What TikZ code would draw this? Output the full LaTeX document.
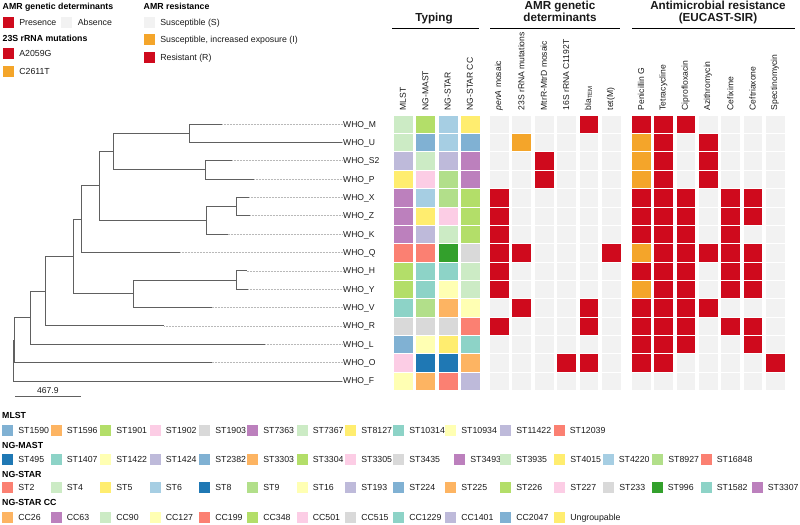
\documentclass[tikz,border=0pt]{standalone}
\usepackage{fontspec}
\setmainfont{Liberation Sans}
\usetikzlibrary{positioning}

% heatmap colours
\definecolor{absent}{HTML}{F2F2F2}
\definecolor{present}{HTML}{CF0A1D}
\definecolor{interm}{HTML}{F4A52A}
\colorlet{code0}{absent}
\colorlet{code1}{present}
\colorlet{code2}{interm}
% typing palette
\definecolor{cTeal}{HTML}{8DD3C7}
\definecolor{cLYellow}{HTML}{FFFFB3}
\definecolor{cLavender}{HTML}{BEBADA}
\definecolor{cSalmon}{HTML}{FB8072}
\definecolor{cBlue}{HTML}{80B1D3}
\definecolor{cOrange}{HTML}{FDB462}
\definecolor{cGreen}{HTML}{B3DE69}
\definecolor{cPink}{HTML}{FCCDE5}
\definecolor{cGrey}{HTML}{D9D9D9}
\definecolor{cPurple}{HTML}{BC80BD}
\definecolor{cLGreen}{HTML}{CCEBC5}
\definecolor{cYellow}{HTML}{FFED6F}
\definecolor{cLBlue}{HTML}{A6CEE3}
\definecolor{cDBlue}{HTML}{1F78B4}
\definecolor{cPGreen}{HTML}{B2DF8A}
\definecolor{cDGreen}{HTML}{33A02C}
\definecolor{ink}{HTML}{1A1A1A}

\newcommand\tipfont{\fontsize{8.6}{10}\selectfont}
\newcommand\keyfont{\fontsize{8.8}{10}\selectfont}
\newcommand\headfont{\fontsize{11.7}{12}\selectfont\bfseries}

\tikzset{
  branch/.style={draw=gray!75!black, line width=0.8bp},
  leader/.style={draw=gray!55, line width=0.5bp, dash pattern=on 0.5bp off 1bp},
  tip/.style={anchor=west, inner sep=0, text=ink, font=\tipfont, text height=6.1bp, text depth=0bp},
  cell/.style={draw=white, line width=0.4bp, minimum width=20bp, minimum height=18.35bp, inner sep=0, anchor=north west},
  colhead/.style={rotate=90, anchor=west, inner sep=0, text=ink, font=\tipfont},
  title/.style={anchor=base, inner sep=0, text=ink, font=\headfont},
  rule/.style={draw=black, line width=1.3bp},
  key/.style={minimum size=11.2bp, inner sep=0, anchor=north west},
  keytext/.style={inner sep=0, text=ink, font=\keyfont, text height=6.3bp, text depth=0bp},
  keytitle/.style={anchor=base west, inner sep=0, text=black, font=\keyfont\bfseries},
}

\begin{document}
\begin{tikzpicture}[x=1bp, y=-1bp]
\useasboundingbox (0,0) rectangle (800,525);

% ---- legends (top left)
\node[keytitle] (gtitle) at (2.5,10) {AMR genetic determinants};
\node[key, fill=present] (kpres) at (2.5,16.5) {};
\node[keytext, right=5bp of kpres] (lpres) {Presence};
\node[key, fill=absent] (kabs) at (61,16.5) {};
\node[keytext, right=5bp of kabs] (labs) {Absence};
\node[keytitle] (mtitle) at (2.5,42) {23S rRNA mutations};
\node[key, fill=present] (ka2059) at (2.5,47.5) {};
\node[keytext, right=5bp of ka2059] (la2059) {A2059G};
\node[key, fill=interm] (kc2611) at (2.5,65.5) {};
\node[keytext, right=5bp of kc2611] (lc2611) {C2611T};
\node[keytitle] (rtitle) at (143.5,10) {AMR resistance};
\node[key, fill=absent] (ks) at (143.5,16.5) {};
\node[keytext, right=5bp of ks] (ls) {Susceptible (S)};
\node[key, fill=interm] (ki) at (143.5,34) {};
\node[keytext, right=5bp of ki] (li) {Susceptible, increased exposure (I)};
\node[key, fill=present] (kr) at (143.5,51.5) {};
\node[keytext, right=5bp of kr] (lr) {Resistant (R)};

% ---- column titles
\node[title] (typing) at (434,22) {Typing};
\node[title] (gen1) at (560,9.5) {AMR genetic};
\node[title] (gen2) at (560,22) {determinants};
\node[title] (res1) at (718,9.5) {Antimicrobial resistance};
\node[title] (res2) at (718,22) {(EUCAST-SIR)};
\coordinate (ty1) at (392,28.8); \coordinate (ty2) at (479,28.8);
\coordinate (ge1) at (490,28.8); \coordinate (ge2) at (620,28.8);
\coordinate (re1) at (632,28.8); \coordinate (re2) at (795,28.8);
\draw[rule] (ty1) -- (ty2);
\draw[rule] (ge1) -- (ge2);
\draw[rule] (re1) -- (re2);

\foreach \t [count=\k from 0] in {MLST, NG-MAST, NG-STAR, NG-STAR CC}
  \node[colhead] (hty\k) at ({403+22.3*\k},110.5) {\t};
\foreach \t [count=\k from 0] in {\textit{penA} mosaic, 23S rRNA mutations, MtrR-MtrD mosaic, 16S rRNA C1192T, bla\textsubscript{TEM}, tet(M)}
  \node[colhead] (hge\k) at ({499+22.4*\k},110.5) {\t};
\foreach \t [count=\k from 0] in {Penicillin G, Tetracycline, Ciprofloxacin, Azithromycin, Cefixime, Ceftriaxone, Spectinomycin}
  \node[colhead] (hre\k) at ({641+22.33*\k},110.5) {\t};

% ---- heatmap
\foreach \s/\cc [count=\r from 0] in {
    M/{cLGreen,cGreen,cLBlue,cYellow},
    U/{cLGreen,cBlue,cLBlue,cBlue},
    S2/{cLavender,cLGreen,cLavender,cPurple},
    P/{cYellow,cPink,cPGreen,cPurple},
    X/{cPurple,cLBlue,cPGreen,cGreen},
    Z/{cPurple,cYellow,cPink,cGreen},
    K/{cPurple,cLavender,cLGreen,cGreen},
    Q/{cSalmon,cSalmon,cDGreen,cGrey},
    H/{cGreen,cTeal,cTeal,cLGreen},
    Y/{cGreen,cTeal,cLYellow,cLGreen},
    V/{cTeal,cPGreen,cOrange,cLYellow},
    R/{cGrey,cGrey,cGrey,cSalmon},
    L/{cBlue,cLYellow,cYellow,cTeal},
    O/{cPink,cDBlue,cDBlue,cOrange},
    F/{cLYellow,cOrange,cSalmon,cLavender}}
  \foreach \c [count=\k from 0] in \cc
    \node[cell, fill=\c] (ty-\s-\k) at ({393+22.3*\k},{114.8+18.35*\r}) {};

\foreach \s/\gg/\rr [count=\r from 0] in {
    M/{0,0,0,0,1,0}/{1,1,1,0,0,0,0},
    U/{0,2,0,0,0,0}/{2,1,0,1,0,0,0},
    S2/{0,0,1,0,0,0}/{2,1,0,1,0,0,0},
    P/{0,0,1,0,0,0}/{2,1,0,1,0,0,0},
    X/{1,0,0,0,0,0}/{1,1,1,0,1,1,0},
    Z/{1,0,0,0,0,0}/{1,1,1,0,1,1,0},
    K/{1,0,0,0,0,0}/{1,1,1,0,1,0,0},
    Q/{1,1,0,0,0,1}/{2,1,1,1,1,1,0},
    H/{1,0,0,0,0,0}/{1,1,1,0,1,1,0},
    Y/{1,0,0,0,0,0}/{2,1,1,0,1,1,0},
    V/{0,1,0,0,1,0}/{1,1,1,1,0,0,0},
    R/{1,0,0,0,1,0}/{1,1,1,0,1,1,0},
    L/{0,0,0,0,0,0}/{1,1,1,0,0,1,0},
    O/{0,0,0,1,1,0}/{1,1,0,0,0,0,1},
    F/{0,0,0,0,0,0}/{0,0,0,0,0,0,0}}{
  \foreach \v [count=\k from 0] in \gg
    \node[cell, minimum width=19.8bp, fill=code\v] (ge-\s-\k) at ({489+22.4*\k},{114.8+18.35*\r}) {};
  \foreach \v [count=\k from 0] in \rr
    \node[cell, minimum width=19.8bp, fill=code\v] (re-\s-\k) at ({631+22.33*\k},{114.8+18.35*\r}) {};
}

% ---- tree
\foreach \s/\xe [count=\r from 0] in {M/222, U/342, S2/232, P/254, X/249, Z/250, K/227.7, Q/180,
    H/246.7, Y/248.3, V/211.7, R/164.3, L/265, O/211.7, F/342}{
  \coordinate (t\s) at (\xe,{124+18.35*\r});
  \node[tip] (who\s) at (343,{124+18.35*\r}) {WHO\_\s};
  \draw[leader] (t\s) -- (who\s.west);
}
\coordinate (nMU) at (189,133.2);
\coordinate (nSP) at (205.7,169.85);
\coordinate (nMUSP) at (113,151.5);
\coordinate (nXZ) at (236,206.55);
\coordinate (nXZK) at (206.7,220.3);
\coordinate (nA) at (99,185.9);
\coordinate (nAQ) at (81,219.2);
\coordinate (nHY) at (236.7,279.95);
\coordinate (nHYV) at (133.3,293.7);
\coordinate (nB) at (73.3,256.45);
\coordinate (nBR) at (45.7,291.1);
\coordinate (nBRL) at (30.7,317.7);
\coordinate (nO) at (14.5,340.1);
\coordinate (root) at (13.5,360.5);
\foreach \p/\c in {nMU/tM, nMU/tU, nSP/tS2, nSP/tP, nMUSP/nMU, nMUSP/nSP, nXZ/tX, nXZ/tZ,
    nXZK/nXZ, nXZK/tK, nA/nMUSP, nA/nXZK, nAQ/nA, nAQ/tQ, nHY/tH, nHY/tY, nHYV/nHY, nHYV/tV,
    nB/nAQ, nB/nHYV, nBR/nB, nBR/tR, nBRL/nBR, nBRL/tL, nO/nBRL, nO/tO, root/nO, root/tF}
  \draw[branch] (\p) |- (\c);

% scale bar
\coordinate (sb1) at (15,396.7);
\coordinate (sb2) at (80.7,396.7);
\draw[branch] (sb1) -- node[above=2.5bp, inner sep=0, text=ink, font=\tipfont] (sblab) {467.9} (sb2);

% ---- legends (bottom)
\node[keytitle] (mlsttitle) at (2,418.5) {MLST};
\foreach \x/\c/\t [count=\i] in {2/cBlue/ST1590, 50.5/cOrange/ST1596, 100/cGreen/ST1901,
    149.5/cPink/ST1902, 199/cGrey/ST1903, 247/cPurple/ST7363, 296.5/cLGreen/ST7367,
    345/cYellow/ST8127, 393/cTeal/ST10314, 445/cLYellow/ST10934, 500/cLavender/ST11422,
    553.5/cSalmon/ST12039}{
  \node[key, fill=\c] (kml\i) at (\x,425) {};
  \node[keytext, right=4.5bp of kml\i] (lml\i) {\t};
}
\node[keytitle] (masttitle) at (2,448.5) {NG-MAST};
\foreach \x/\c/\t [count=\i] in {2/cDBlue/ST495, 50.5/cTeal/ST1407, 100/cLYellow/ST1422,
    149.5/cLavender/ST1424, 199/cBlue/ST2382, 247/cOrange/ST3303, 296.5/cGreen/ST3304,
    345/cPink/ST3305, 393/cGrey/ST3435, 454/cPurple/ST3493, 500/cLGreen/ST3935,
    554/cYellow/ST4015, 602.5/cLBlue/ST4220, 652/cPGreen/ST8927, 700.5/cSalmon/ST16848}{
  \node[key, fill=\c] (kma\i) at (\x,454) {};
  \node[keytext, right=4.5bp of kma\i] (lma\i) {\t};
}
\node[keytitle] (startitle) at (2,477.8) {NG-STAR};
\foreach \x/\c/\t [count=\i] in {2/cSalmon/ST2, 50.5/cLGreen/ST4, 100/cYellow/ST5,
    149.5/cLBlue/ST6, 199/cDBlue/ST8, 247/cPGreen/ST9, 296.5/cLYellow/ST16,
    345/cLavender/ST193, 393/cBlue/ST224, 445/cOrange/ST225, 500/cGreen/ST226,
    554/cPink/ST227, 603/cGrey/ST233, 651.5/cDGreen/ST996, 700.5/cTeal/ST1582,
    751.5/cPurple/ST3307}{
  \node[key, fill=\c] (kst\i) at (\x,482) {};
  \node[keytext, right=4.5bp of kst\i] (lst\i) {\t};
}
\node[keytitle] (cctitle) at (2,505.2) {NG-STAR CC};
\foreach \x/\c/\t [count=\i] in {2/cOrange/CC26, 50.5/cPurple/CC63, 100/cLGreen/CC90,
    149.5/cLYellow/CC127, 199/cSalmon/CC199, 247/cGreen/CC348, 296.5/cPink/CC501,
    345/cGrey/CC515, 393/cTeal/CC1229, 445/cLavender/CC1401, 500/cBlue/CC2047,
    554/cYellow/Ungroupable}{
  \node[key, fill=\c] (kcc\i) at (\x,511.5) {};
  \node[keytext, right=4.5bp of kcc\i] (lcc\i) {\t};
}
\end{tikzpicture}
\end{document}
